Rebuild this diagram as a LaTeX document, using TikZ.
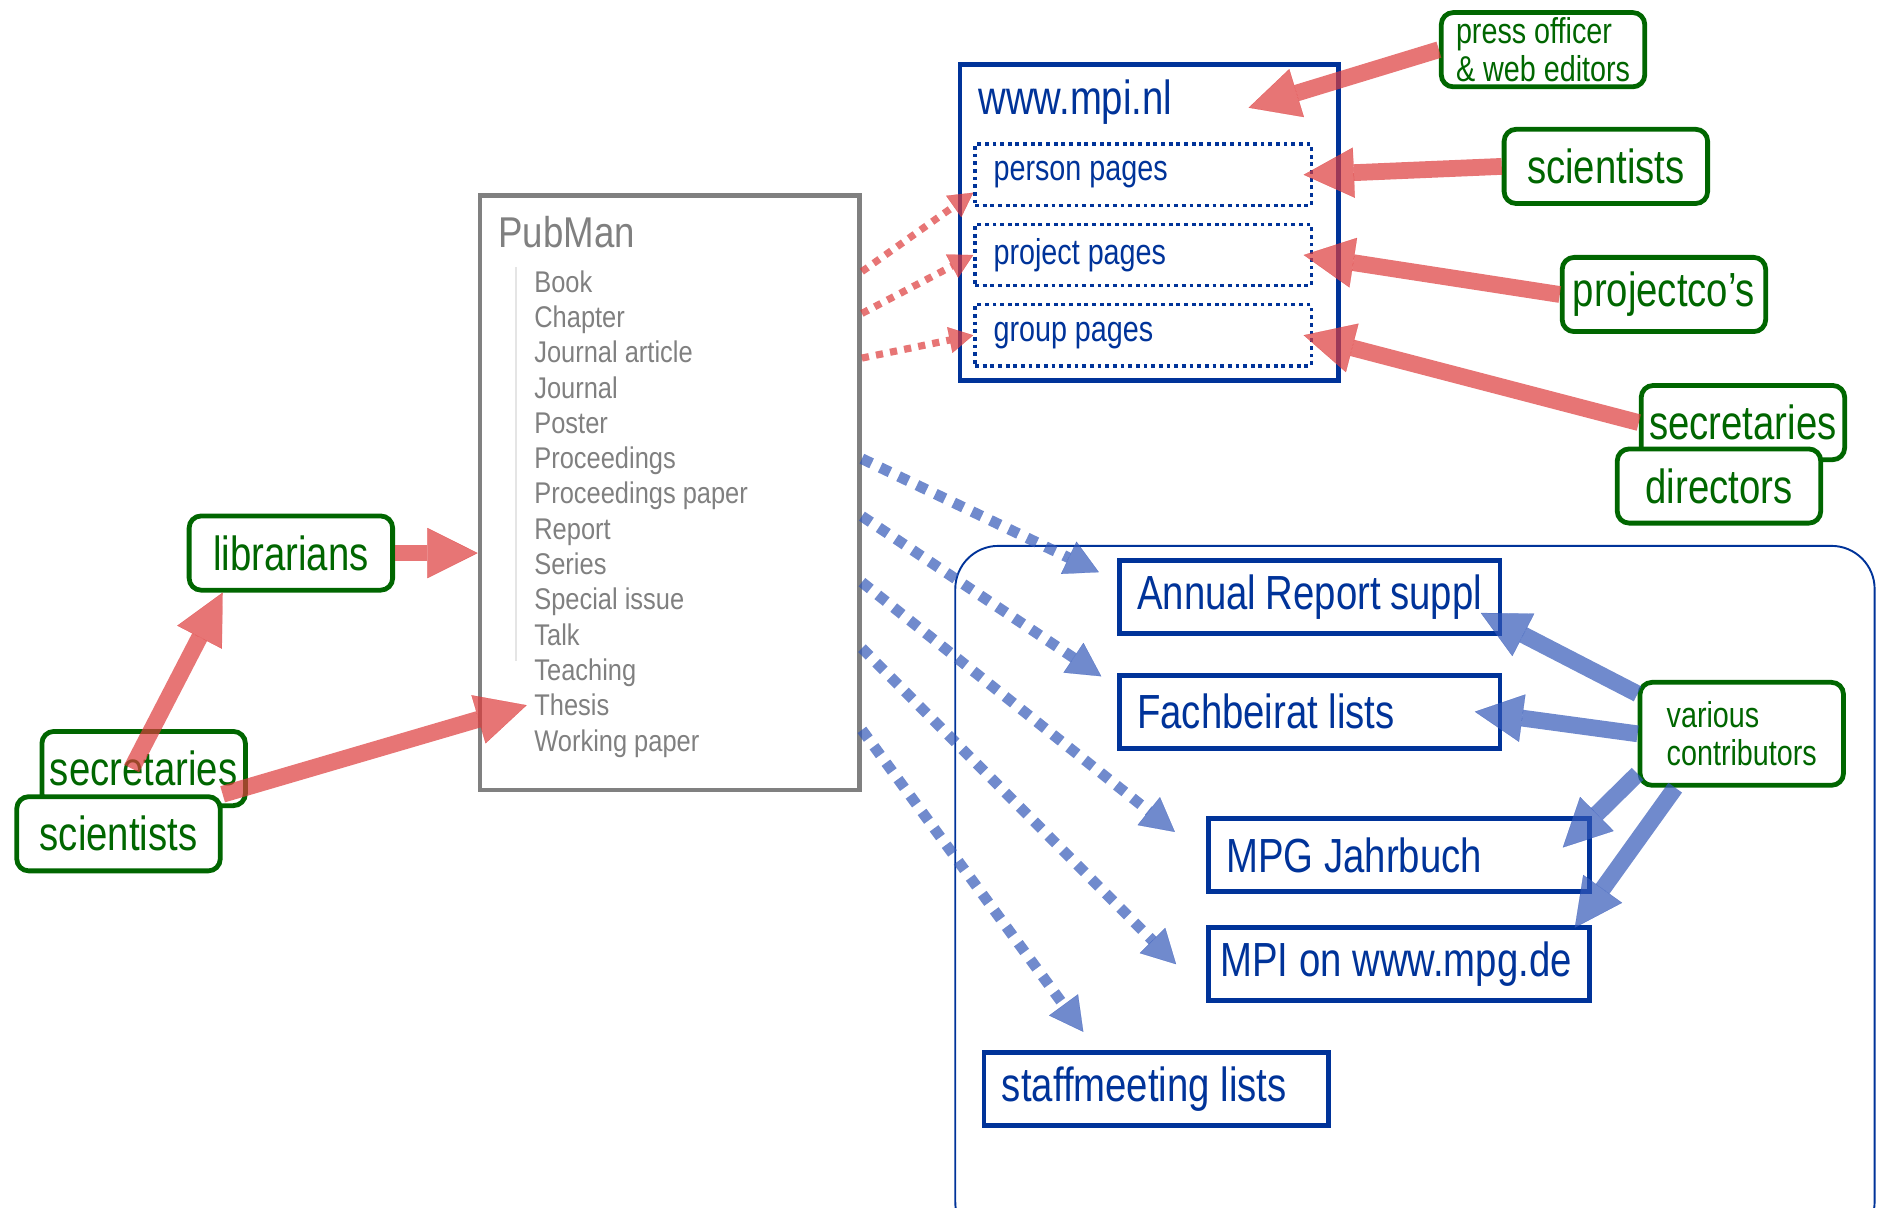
\documentclass[tikz,border=0pt]{standalone}
\usepackage{fontspec}
\newfontfamily\narrowfont[FakeStretch=0.8]{Liberation Sans}
\newfontfamily\listfont[FakeStretch=0.85]{Liberation Sans}
\usepackage{tikz}
\usetikzlibrary{arrows.meta, positioning, calc}
\usepackage{xcolor}
\tikzstyle{rolebox} = [%
  rectangle,
  rounded corners=5pt,
  draw=mpGreen,
  line width=2pt,
  fill=white,
  text=mpGreen,
  minimum width=85pt,
  minimum height=31pt,
  inner sep=2pt,
  align=center,
  font=\narrowfont\fontsize{20}{24}\selectfont
]
\tikzstyle{outbox} = [%
  rectangle,
  draw=mpBlue,
  line width=2pt,
  fill=white,
  text=mpBlue,
  minimum height=30.5pt,
  inner xsep=7.5pt,
  inner ysep=0pt,
  align=flush left,
  execute at begin node={\hyphenpenalty=10000},
  font=\narrowfont\fontsize{20}{24}\selectfont
]
\tikzstyle{pagebox} = [%
  rectangle,
  draw=mpBlue,
  line width=1.5pt,
  dash pattern=on 1.6pt off 1.6pt,
  text=mpBlue,
  minimum height=25.5pt,
  inner xsep=7.75pt,
  inner ysep=0pt,
  text width=125pt,
  align=flush left,
  font=\narrowfont\fontsize{15}{18}\selectfont
]
\tikzstyle{typeitem} = [%
  anchor=base west,
  inner sep=0pt,
  text=pmGray,
  font=\listfont\fontsize{12.5}{14}\selectfont
]
\definecolor{mpBlue}{HTML}{003399}
\definecolor{mpGreen}{HTML}{006600}
\definecolor{pmGray}{HTML}{808080}
\definecolor{arRed}{HTML}{DD3B3B}
\definecolor{arBlue}{HTML}{3358B8}

\begin{document}
\begin{tikzpicture}[%
  x=0.5pt, y=-0.5pt,
  fatred/.style={%
    draw=arRed, opacity=0.7, line width=7pt,
    -{Triangle[length=21pt,width=21pt,line width=0.1pt]}
  },
  fatblue/.style={%
    draw=arBlue, opacity=0.7, line width=7pt,
    -{Triangle[length=20pt,width=20pt,line width=0.1pt]}
  },
  reddots/.style={%
    draw=arRed, opacity=0.7, line width=3pt,
    dash pattern=on 3pt off 3pt,
    -{Triangle[length=10pt,width=11pt,line width=0.1pt]}
  },
  bluedots/.style={%
    draw=arBlue, opacity=0.7, line width=4.5pt,
    dash pattern=on 4.5pt off 4pt,
    -{Triangle[length=14pt,width=15pt,line width=0.1pt]}
  }
]

  \useasboundingbox (0,0) rectangle (1568,1009);

  % Output region (runs off the page)
  \begin{scope}
    \clip (0,0) rectangle (1568,1009);
    \draw[mpBlue,line width=0.8pt,rounded corners=18pt] (798,456) rectangle (1566,1040);
  \end{scope}

  % PubMan
  \node[draw=pmGray,line width=2pt,minimum width=158.5pt,minimum height=248.5pt] (pubman) at (559.5,411.5) {};
  \node[anchor=base west,inner sep=0pt,text=pmGray,font=\listfont\fontsize{18}{20}\selectfont] (pubtitle) at (416,207) {PubMan};
  \draw[black!10,line width=0.5pt] (431,223) -- (431,552);
  \foreach \t [count=\i] in {Book,Chapter,Journal article,Journal,Poster,Proceedings,Proceedings paper,Report,Series,Special issue,Talk,Teaching,Thesis,Working paper}
    \node[typeitem] (item\i) at (446,{244+29.5*(\i-1)}) {\t};

  % www.mpi.nl
  \node[draw=mpBlue,line width=2pt,minimum width=158pt,minimum height=132pt] (mpi) at (960,186) {};
  \node[anchor=base west,inner sep=0pt,text=mpBlue,font=\narrowfont\fontsize{20}{24}\selectfont] (mpititle) at (817,96) {www.mpi.nl};
  \node[pagebox] (person) at (955,146) {person pages};
  \node[pagebox,below=6.5pt of person] (project) {project pages};
  \node[pagebox,below=6.5pt of project] (group) {group pages};

  % Roles
  \node[rolebox,align=left,font=\narrowfont\fontsize{15}{16}\selectfont] (press) at (1289,41.5) {press officer\\\& web editors};
  \node[rolebox] (sciT) at (1341.5,139) {scientists};
  \node[rolebox] (projco) at (1390,246) {projectco’s};
  \node[rolebox] (secR) at (1456,353) {secretaries};
  \node[rolebox] (dirs) at (1436,406) {directors};
  \node[rolebox] (lib) at (243,462) {librarians};
  \node[rolebox] (secL) at (120,642) {secretaries};
  \node[rolebox] (sciL) at (99,696.5) {scientists};
  \node[rolebox,minimum height=43pt,align=left,font=\narrowfont\fontsize{15}{16}\selectfont] (various) at (1455,613) {various\\contributors};

  % Outputs
  \node[outbox,text width=144pt] (annual) at (1094,498.5) {Annual~Report~suppl};
  \node[outbox,text width=144pt,below=15.5pt of annual] (fach) {Fachbeirat~lists};
  \node[outbox,text width=144pt] (mpg) at (1168.5,714.5) {MPG~Jahrbuch};
  \node[outbox,text width=149pt,inner xsep=5pt,below=13pt of mpg] (mpiweb) {MPI~on~www.mpg.de};
  \node[outbox,text width=129pt] (staff) at (966,909.5) {staffmeeting~lists};

  % Input edges
  \draw[fatred] (lib.east) -- (lib.east -| pubman.west);
  \draw[fatred] ([xshift=-5pt]secL.center) -- ([xshift=15pt]lib.south west);
  \draw[fatred] (sciL.north east) -- ([xshift=-3pt]item13.west);
  \draw[fatred] (press.west) -- ([xshift=-38.5pt,yshift=-19pt]mpi.north east);
  \draw[fatred] (sciT.west) -- ([xshift=-4pt]person.east);
  \draw[fatred] (projco.west) -- ([xshift=-4pt]project.east);
  \draw[fatred] (secR.west) -- ([xshift=-4pt]group.east);

  % Export to web pages
  \draw[reddots] (pubman.49) -- (person.186);
  \draw[reddots] (pubman.43) -- (project.west);
  \draw[reddots] (pubman.35) -- (group.west);

  % Export to reports
  \draw[bluedots] (pubman.10) -- ([xshift=-7.5pt,yshift=-6pt]annual.north west);
  \draw[bluedots] (pubman.-7) -- ([xshift=-6.5pt,yshift=-1.5pt]fach.north west);
  \draw[bluedots] (pubman.-25) -- ([xshift=-13pt,yshift=-6.5pt]mpg.north west);
  \draw[bluedots] (pubman.-39) -- ([xshift=-12.5pt]mpiweb.west);
  \draw[bluedots] (pubman.-51) -- ([xshift=42.5pt,yshift=7.5pt]staff.north west);

  % Contributors
  \draw[fatblue] (various.159) -- ([xshift=-9pt,yshift=9.5pt]annual.south east);
  \draw[fatblue] (various.west) -- ([xshift=-11.5pt]fach.east);
  \draw[fatblue] (various.201) -- ([xshift=-12pt,yshift=-13pt]mpg.north east);
  \draw[fatblue] (various.219) -- ([xshift=-7pt,yshift=-1pt]mpiweb.north east);

\end{tikzpicture}
\end{document}
